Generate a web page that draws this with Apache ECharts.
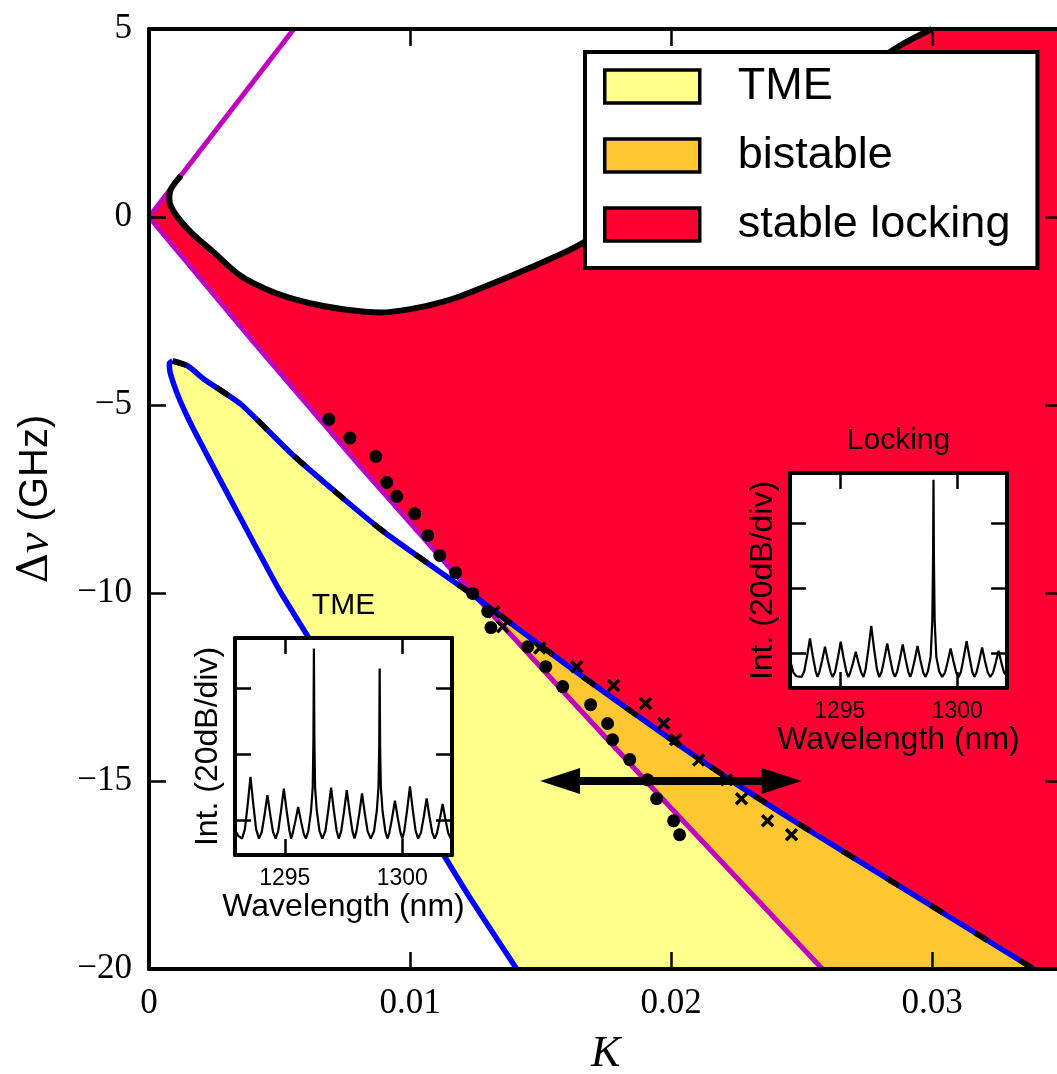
<!doctype html>
<html lang="en">
<head>
<meta charset="UTF-8">
<title>Injection locking map</title>
<script src="https://cdn.jsdelivr.net/npm/echarts@6/dist/echarts.min.js"></script>
<style>
  html, body { margin: 0; padding: 0; background: #fff; }
  #main { width: 1057px; height: 1074px; }
</style>
</head>
<body>
<div id="main"></div>
<script>
// ---- data (K, detuning in GHz) ----
var kMax = 0.035;
var magentaUpper = [[0, 0], [0.00555, 5]];
var magentaLower = [[0, 0], [0.0040, -3.32], [0.0080, -6.56], [0.0120, -9.7], [0.0160, -12.72], [0.0200, -15.72], [0.0258, -20]];
var crossing = [0.0125, -10.1];
var blueUpper = [[0.00091, -3.83], [0.00148, -3.96], [0.00212, -4.32], [0.00352, -4.98], [0.00556, -6.36], [0.00888, -8.31],
  [0.0125, -10.1], [0.01603, -11.93], [0.02011, -13.95], [0.02266, -15.15], [0.02496, -16.17], [0.02879, -17.81], [0.0339, -20]];
var blueLower = [[0.00091, -3.83], [0.00078, -3.9], [0.0008, -4.1], [0.00095, -4.45], [0.0012, -4.9], [0.0016, -5.5], [0.0022, -6.3],
  [0.0030, -7.35], [0.0040, -8.65], [0.0050, -9.93], [0.00604, -11.1], [0.01129, -16.97], [0.01233, -18.14], [0.01409, -20]];
var blackCurve = [[0.00123, 1.10], [0.00084, 0.74], [0.00078, 0.47], [0.00097, 0.12], [0.00161, -0.41], [0.0025, -0.95],
  [0.00352, -1.57], [0.0048, -2.01], [0.00608, -2.28], [0.0075, -2.46], [0.00888, -2.54], [0.0100, -2.45], [0.01118, -2.27],
  [0.01195, -2.10], [0.01386, -1.57], [0.01577, -0.99], [0.01654, -0.72], [0.0200, 0.75], [0.0245, 2.6], [0.02866, 4.51], [0.0300, 5.0]];
var circles = [[0.00689, -5.38], [0.00770, -5.88], [0.00869, -6.37], [0.00911, -7.06], [0.00949, -7.43], [0.01018, -7.89],
  [0.01068, -8.47], [0.01114, -9.00], [0.01175, -9.46], [0.01240, -10.01], [0.01298, -10.49], [0.01310, -10.92],
  [0.01451, -11.43], [0.01520, -11.96], [0.01585, -12.49], [0.01692, -12.97], [0.01757, -13.47], [0.01776, -13.90],
  [0.01842, -14.43], [0.01910, -14.97], [0.01945, -15.47], [0.02010, -16.06], [0.02033, -16.43]];
var crosses = [[0.01321, -10.50], [0.01355, -10.90], [0.01497, -11.46], [0.01639, -11.96], [0.01780, -12.46], [0.01903, -12.94],
  [0.01972, -13.47], [0.02018, -13.90], [0.02106, -14.44], [0.02213, -14.97], [0.02270, -15.47], [0.02370, -16.06], [0.02462, -16.43]];
var arrowK = [0.01575, 0.02424];
var arrowY = -15;

// inset spectra (wavelength nm, dB)
var tmeSpectrum = [[1292.88, -3.0], [1293.02, -4.8], [1293.18, -5.6], [1293.30, -2.8], [1293.42, 4.7], [1293.54, 13.2], [1293.66, 4.7], [1293.78, -2.8], [1293.90, -5.6],
  [1294.02, -3.6], [1294.14, 1.7], [1294.26, 7.6], [1294.38, 1.7], [1294.50, -3.6], [1294.61, -5.6],
  [1294.72, -3.3], [1294.84, 2.8], [1294.96, 9.6], [1295.08, 2.8], [1295.20, -3.3], [1295.27, -5.6],
  [1295.33, -4.2], [1295.45, -0.3], [1295.57, 4.0], [1295.69, -0.3], [1295.81, -4.2], [1295.90, -5.6],
  [1296.00, -3.4], [1296.12, 3.0], [1296.19, 10.0], [1296.22, 25.0], [1296.24, 52.2], [1296.26, 25.0], [1296.29, 10.0], [1296.36, 3.0], [1296.48, -3.4], [1296.60, -5.6],
  [1296.73, -3.3], [1296.85, 2.9], [1296.97, 9.9], [1297.09, 2.9], [1297.21, -3.3], [1297.30, -5.6],
  [1297.40, -3.4], [1297.52, 2.5], [1297.64, 9.1], [1297.76, 2.5], [1297.88, -3.4], [1297.97, -5.6],
  [1298.05, -3.5], [1298.17, 1.9], [1298.29, 8.1], [1298.41, 1.9], [1298.53, -3.5], [1298.66, -5.6],
  [1298.80, -3.4], [1298.92, 3.0], [1298.99, 10.0], [1299.02, 22.0], [1299.04, 46.1], [1299.06, 22.0], [1299.09, 10.0], [1299.16, 3.0], [1299.28, -3.4], [1299.37, -5.6],
  [1299.45, -3.9], [1299.57, 0.7], [1299.69, 5.9], [1299.81, 0.7], [1299.93, -3.9], [1300.01, -5.6],
  [1300.09, -3.2], [1300.21, 3.1], [1300.33, 10.3], [1300.45, 3.1], [1300.57, -3.2], [1300.68, -5.6],
  [1300.80, -3.8], [1300.92, 1.1], [1301.04, 6.6], [1301.16, 1.1], [1301.28, -3.8], [1301.38, -5.6],
  [1301.48, -4.0], [1301.60, 0.2], [1301.72, 4.9], [1301.84, 0.2], [1301.96, -4.0], [1302.06, -5.4], [1302.12, -5.0]];
var lockSpectrum = [[1292.90, -2.5], [1293.02, -5.8], [1293.15, -7.0], [1293.38, -7.2],
  [1293.49, -5.4], [1293.61, -0.7], [1293.73, 4.6], [1293.85, -0.7], [1293.97, -5.4], [1294.05, -7.2],
  [1294.13, -5.8], [1294.25, -2.1], [1294.37, 2.1], [1294.49, -2.1], [1294.61, -5.8], [1294.70, -7.2],
  [1294.80, -5.6], [1294.92, -1.3], [1295.04, 3.6], [1295.16, -1.3], [1295.28, -5.6], [1295.36, -7.2],
  [1295.44, -6.0], [1295.56, -3.0], [1295.68, 0.5], [1295.80, -3.0], [1295.92, -6.0], [1296.01, -7.2],
  [1296.10, -4.8], [1296.22, 1.4], [1296.34, 8.5], [1296.46, 1.4], [1296.58, -4.8], [1296.68, -7.2],
  [1296.78, -5.7], [1296.90, -1.5], [1297.02, 3.1], [1297.14, -1.5], [1297.26, -5.7], [1297.35, -7.2],
  [1297.44, -5.7], [1297.56, -1.7], [1297.68, 2.8], [1297.80, -1.7], [1297.92, -5.7], [1298.00, -7.2],
  [1298.07, -5.8], [1298.19, -2.0], [1298.31, 2.3], [1298.43, -2.0], [1298.55, -5.8], [1298.65, -7.2],
  [1298.75, -5.5], [1298.87, -1.0], [1298.94, 10.0], [1298.97, 28.0], [1298.99, 53.3], [1299.01, 28.0], [1299.04, 10.0], [1299.11, -1.0], [1299.23, -5.5], [1299.36, -7.2],
  [1299.48, -5.9], [1299.60, -2.4], [1299.72, 1.5], [1299.84, -2.4], [1299.96, -5.9], [1300.06, -7.2],
  [1300.16, -5.6], [1300.28, -1.1], [1300.40, 3.8], [1300.52, -1.1], [1300.64, -5.6], [1300.73, -7.2],
  [1300.82, -5.85], [1300.94, -2.2], [1301.06, 1.8], [1301.18, -2.2], [1301.30, -5.85], [1301.41, -7.2],
  [1301.52, -6.0], [1301.64, -2.8], [1301.76, 0.8], [1301.88, -2.8], [1302.00, -6.0], [1302.12, -6.8]];
var wlTicks = [1295, 1300];
var dbTicks = [0, 20, 40];

var yellow = '#ffff8c', orange = '#ffc832', red = '#ff0033', magenta = '#bf00bf', blue = '#0000ff';

// ---- region outlines built from the curves ----
function before(arr, k) { return arr.filter(function (p) { return p[0] < k; }); }
function after(arr, k) { return arr.filter(function (p) { return p[0] > k; }); }
var ck = crossing[0];
var redPoly = [[0, 0]].concat(blackCurve, [[kMax, 5], [kMax, -20]], after(blueUpper, ck).reverse(), [crossing], before(magentaLower, ck).reverse());
var yellowPoly = before(blueUpper, ck).concat([crossing], after(magentaLower, ck), blueLower.slice().reverse());
var orangePoly = [crossing].concat(after(blueUpper, ck), after(magentaLower, ck).reverse());

function region(name, pts, color) {
  return {
    type: 'custom', name: name, xAxisIndex: 0, yAxisIndex: 0, z: 1, silent: true,
    itemStyle: { color: color },
    data: [pts[0]],
    renderItem: function (params, api) {
      return { type: 'polygon', shape: { points: pts.map(function (p) { return api.coord(p); }) }, style: { fill: color } };
    }
  };
}
function curve(data, color, width, z, dash, smooth) {
  return {
    type: 'line', data: data, xAxisIndex: 0, yAxisIndex: 0, showSymbol: false, silent: true, z: z,
    smooth: smooth || false,
    lineStyle: { color: color, width: width, type: dash || 'solid', cap: 'butt', opacity: 1 }
  };
}

var tickStyle = { color: '#000', width: 2.5 };
var serif = 'Liberation Serif', sans = 'Liberation Sans';

function insetX(grid, pos, name, gap) {
  return {
    type: 'value', gridIndex: grid, position: pos, min: 1292.88, max: 1302.12, z: 12,
    axisLine: { show: true, onZero: false, lineStyle: { color: '#000', width: 4 } },
    axisTick: { show: true, inside: true, length: 16, customValues: wlTicks, lineStyle: tickStyle },
    axisLabel: {
      show: pos === 'bottom', customValues: wlTicks, margin: 12, fontFamily: sans, fontSize: 23, color: '#000',
      formatter: function (v) { return String(v); }
    },
    splitLine: { show: false },
    name: name, nameLocation: 'middle', nameGap: gap,
    nameTextStyle: { fontFamily: sans, fontSize: pos === 'bottom' ? 32 : 30, color: '#000' }
  };
}
function insetY(grid, pos) {
  return {
    type: 'value', gridIndex: grid, position: pos, min: -10.6, max: 55.4, z: 12,
    axisLine: { show: true, onZero: false, lineStyle: { color: '#000', width: 4 } },
    axisTick: { show: true, inside: true, length: 16, customValues: dbTicks, lineStyle: tickStyle },
    axisLabel: { show: false },
    splitLine: { show: false },
    name: pos === 'left' ? 'Int. (20dB/div)' : '', nameLocation: 'middle', nameGap: 11, nameRotate: 90,
    nameTextStyle: { fontFamily: sans, fontSize: 32, color: '#000' }
  };
}

var chart = echarts.init(document.getElementById('main'));
var option = {
  animation: false,
  backgroundColor: '#fff',
  legend: {
    data: ['TME', 'bistable', 'stable locking'],
    orient: 'vertical', left: 585, top: 52, z: 20,
    backgroundColor: '#fff', borderColor: '#000', borderWidth: 4,
    padding: [12, 27, 21, 18],
    itemWidth: 95, itemHeight: 33, itemGap: 24,
    icon: 'rect', selectedMode: false,
    itemStyle: { borderColor: '#000', borderWidth: 3.5 },
    textStyle: { fontFamily: sans, fontSize: 45, color: '#000', lineHeight: 33, padding: [0, 0, 0, 33] }
  },
  grid: [
    { left: 149, top: 29, width: 913.5, height: 940, outerBoundsMode: 'none', containLabel: false },
    { left: 235, top: 638, width: 217, height: 217, show: true, backgroundColor: '#fff', borderWidth: 0, z: 10, outerBoundsMode: 'none' },
    { left: 790, top: 473, width: 217, height: 215, show: true, backgroundColor: '#fff', borderWidth: 0, z: 10, outerBoundsMode: 'none' }
  ],
  xAxis: [
    {
      type: 'value', gridIndex: 0, position: 'bottom', min: 0, max: kMax, interval: 0.01, z: 7,
      axisLine: { onZero: false, lineStyle: { color: '#000', width: 4 } },
      axisTick: { inside: true, length: 17, lineStyle: tickStyle },
      axisLabel: {
        margin: 17, fontFamily: serif, fontSize: 35, color: '#000', showMaxLabel: false,
        formatter: function (v) { return v === 0 ? '0' : v.toFixed(2); }
      },
      splitLine: { show: false },
      name: 'K', nameLocation: 'middle', nameGap: 63,
      nameTextStyle: { fontFamily: serif, fontStyle: 'italic', fontSize: 44, color: '#000' }
    },
    {
      type: 'value', gridIndex: 0, position: 'top', min: 0, max: kMax, interval: 0.01, z: 7,
      axisLine: { onZero: false, lineStyle: { color: '#000', width: 4 } },
      axisTick: { inside: true, length: 17, lineStyle: tickStyle },
      axisLabel: { show: false }, splitLine: { show: false }
    },
    insetX(1, 'bottom', 'Wavelength (nm)', 15),
    insetX(1, 'top', 'TME', 17),
    insetX(2, 'bottom', 'Wavelength (nm)', 15),
    insetX(2, 'top', 'Locking', 17)
  ],
  yAxis: [
    {
      type: 'value', gridIndex: 0, position: 'left', min: -20, max: 5, interval: 5, z: 7,
      axisLine: { onZero: false, lineStyle: { color: '#000', width: 4 } },
      axisTick: { inside: true, length: 17, lineStyle: tickStyle },
      axisLabel: {
        margin: 17, fontFamily: serif, fontSize: 35, color: '#000',
        formatter: function (v) { return String(v).replace('-', '\u2212'); }
      },
      splitLine: { show: false },
      name: '{d|\u0394}{v|\u03bd}{s| (GHz)}', nameLocation: 'middle', nameGap: 90, nameRotate: 90,
      nameTextStyle: {
        color: '#000',
        rich: {
          d: { fontFamily: 'DejaVu Serif', fontSize: 42, color: '#000' },
          v: { fontFamily: serif, fontStyle: 'italic', fontSize: 46, color: '#000' },
          s: { fontFamily: sans, fontSize: 40, color: '#000' }
        }
      }
    },
    {
      type: 'value', gridIndex: 0, position: 'right', min: -20, max: 5, interval: 5, z: 7,
      axisLine: { onZero: false, lineStyle: { color: '#000', width: 4 } },
      axisTick: { inside: true, length: 17, lineStyle: tickStyle },
      axisLabel: { show: false }, splitLine: { show: false }
    },
    insetY(1, 'left'), insetY(1, 'right'),
    insetY(2, 'left'), insetY(2, 'right')
  ],
  series: [
    region('stable locking', redPoly, red),
    region('TME', yellowPoly, yellow),
    region('bistable', orangePoly, orange),
    curve(magentaUpper, magenta, 5, 2),
    curve(magentaLower, magenta, 5, 2),
    curve(blueUpper, blue, 5.5, 3, null, 0.2),
    curve(blueLower, blue, 5.5, 3, null, 0.2),
    curve(blueUpper, '#000', 5.5, 4, [14, 38], 0.2),
    curve(blackCurve, '#000', 6, 3, null, 0.3),
    {
      type: 'scatter', data: circles, xAxisIndex: 0, yAxisIndex: 0, z: 5, silent: true,
      symbol: 'circle', symbolSize: 13, itemStyle: { color: '#000', opacity: 1 }
    },
    {
      type: 'scatter', data: crosses, xAxisIndex: 0, yAxisIndex: 0, z: 5, silent: true,
      symbol: 'path://M0,0L10,10M10,0L0,10', symbolSize: 11,
      itemStyle: { color: 'none', borderColor: '#000', borderWidth: 3.5, opacity: 1 }
    },
    {
      type: 'line', xAxisIndex: 0, yAxisIndex: 0, z: 6, silent: true,
      data: [
        { value: [arrowK[0], arrowY], symbolRotate: 90 },
        { value: [arrowK[1], arrowY], symbolRotate: -90 }
      ],
      symbol: 'triangle', symbolSize: [26, 40], showSymbol: true,
      itemStyle: { color: '#000' }, lineStyle: { color: '#000', width: 8 }
    },
    {
      type: 'line', data: tmeSpectrum, xAxisIndex: 2, yAxisIndex: 2, z: 12, silent: true,
      showSymbol: false, lineStyle: { color: '#000', width: 2.2 }
    },
    {
      type: 'line', data: lockSpectrum, xAxisIndex: 4, yAxisIndex: 4, z: 12, silent: true,
      showSymbol: false, lineStyle: { color: '#000', width: 2.2 }
    }
  ]
};
chart.setOption(option);
</script>
</body>
</html>
